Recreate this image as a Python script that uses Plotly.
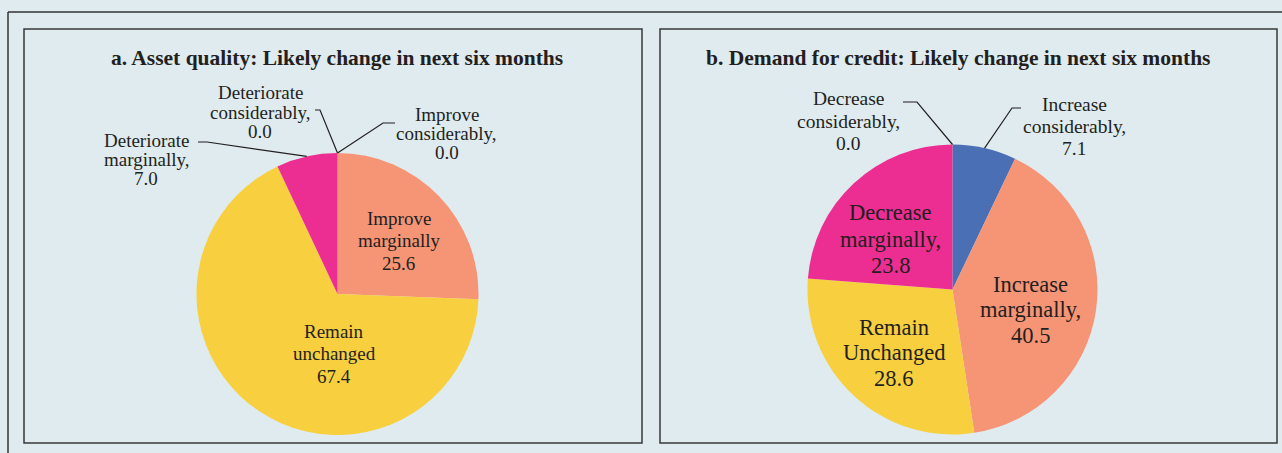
import math
import plotly.graph_objects as go

W, H = 1282, 453

# ---------------- data ----------------
cats_a = ["Improve considerably", "Improve marginally", "Remain unchanged",
          "Deteriorate marginally", "Deteriorate considerably"]
vals_a = [0.0, 25.6, 67.4, 7.0, 0.0]
text_a = ["Improve<br>considerably,", "Improve<br>marginally", "Remain<br>unchanged",
          "Deteriorate<br>marginally,", "Deteriorate<br>considerably,"]
colors_a = ["#4a6fb5", "#f69476", "#f8cf3e", "#ec2d91", "#7f7f7f"]

cats_b = ["Increase considerably", "Increase marginally", "Remain Unchanged",
          "Decrease marginally", "Decrease considerably"]
vals_b = [7.1, 40.5, 28.6, 23.8, 0.0]
text_b = ["Increase<br>considerably,", "Increase<br>marginally,", "Remain<br>Unchanged",
          "Decrease<br>marginally,", "Decrease<br>considerably,"]
colors_b = ["#4a6fb5", "#f69476", "#f8cf3e", "#ec2d91", "#7f7f7f"]

title_a = "a. Asset quality: Likely change in next six months"
title_b = "b. Demand for credit: Likely change in next six months"

# ---------------- layout helpers ----------------
BG = "#dfebef"
TXT = "#231f20"
SERIF = "Liberation Serif"

def px(x):
    return x / W

def py(y):
    return 1 - y / H

# pie geometry (pixels): centre, radius
geo_a = dict(cx=337.5, cy=294, r=141)
geo_b = dict(cx=952.5, cy=289.5, r=145)

def domain(g):
    return dict(x=[px(g["cx"] - g["r"]), px(g["cx"] + g["r"])],
                y=[py(g["cy"] + g["r"]), py(g["cy"] - g["r"])])

def edge_point(g, vals, i):
    tot = sum(vals)
    start = sum(vals[:i]) / tot
    mid = (start + vals[i] / tot / 2) * 2 * math.pi
    return g["cx"] + g["r"] * math.sin(mid), g["cy"] - g["r"] * math.cos(mid)

def pie(vals, cats, colors, g):
    return go.Pie(
        labels=cats, values=vals, sort=False, direction="clockwise", rotation=0,
        marker=dict(colors=colors, line=dict(width=0)),
        textinfo="none", domain=domain(g), showlegend=False, hoverinfo="label+value",
    )

fig = go.Figure()
fig.add_trace(pie(vals_a, cats_a, colors_a, geo_a))
fig.add_trace(pie(vals_b, cats_b, colors_b, geo_b))

shapes = []
annotations = []
line_c = "#333333"
# outer frame (top + left)
shapes.append(dict(type="line", xref="paper", yref="paper", x0=px(8), x1=px(1282), y0=py(12), y1=py(12),
                   line=dict(color=line_c, width=1.5)))
shapes.append(dict(type="line", xref="paper", yref="paper", x0=px(8), x1=px(8), y0=py(12), y1=py(453),
                   line=dict(color=line_c, width=1.5)))
# panel boxes
for x0, x1 in [(24, 642), (660, 1277)]:
    shapes.append(dict(type="rect", xref="paper", yref="paper", x0=px(x0), x1=px(x1), y0=py(443), y1=py(29),
                       line=dict(color="#3a3a3a", width=1.5), fillcolor="rgba(0,0,0,0)"))

for t, cx in [(title_a, 337), (title_b, 958)]:
    annotations.append(dict(text=f"<b>{t}</b>", x=px(cx), y=py(58), xref="paper", yref="paper",
                            showarrow=False, xanchor="center", yanchor="middle",
                            font=dict(family=SERIF, size=21.5, color=TXT)))

def add_label(texts, vals, i, cx, y0, dy, size):
    lines = texts[i].split("<br>") + [f"{vals[i]:.1f}"]
    for k, ln in enumerate(lines):
        annotations.append(dict(text=ln, x=px(cx), y=py(y0 + k * dy), xref="paper", yref="paper",
                                showarrow=False, xanchor="center", yanchor="middle",
                                font=dict(family=SERIF, size=size, color=TXT)))

# inside labels: (texts, vals, index, centre x, first-line y, line step, font size)
add_label(text_a, vals_a, 1, 399, 218, 22.5, 19)
add_label(text_a, vals_a, 2, 334, 331, 22.5, 19)
add_label(text_b, vals_b, 3, 890, 213, 26, 22.5)
add_label(text_b, vals_b, 1, 1030, 284, 25.5, 22.5)
add_label(text_b, vals_b, 2, 894, 327, 25.5, 22.5)

# outside labels with leader lines
outside = [
    (geo_a, vals_a, text_a, 4, (260, 93, 19.5, 19), (315, 110), (320, 110)),
    (geo_a, vals_a, text_a, 0, (447, 115, 19, 19), (395, 123), (383, 123)),
    (geo_a, vals_a, text_a, 3, (146, 140, 19, 19), (198, 142), (207, 142)),
    (geo_b, vals_b, text_b, 4, (848, 98.5, 22.5, 19.5), (903, 102), (917, 102)),
    (geo_b, vals_b, text_b, 0, (1074, 105, 21.5, 19.5), (1021, 108), (1012, 108)),
]
for g, vals, texts, i, (lx, ly, dy, fs), (sx, sy), (ex, ey) in outside:
    add_label(texts, vals, i, lx, ly, dy, fs)
    tx, ty = edge_point(g, vals, i)
    path = f"M {px(sx)} {py(sy)} L {px(ex)} {py(ey)} L {px(tx)} {py(ty)}"
    shapes.append(dict(type="path", xref="paper", yref="paper", path=path,
                       line=dict(color="#231f20", width=1.2)))

fig.update_layout(
    width=W, height=H, margin=dict(l=0, r=0, t=0, b=0),
    paper_bgcolor=BG, plot_bgcolor=BG,
    shapes=shapes, annotations=annotations,
)
fig.write_html(
    "out.html",
    config={"displayModeBar": False},
    post_script="document.body.style.margin='0';document.body.style.background='#dfebef';",
)
